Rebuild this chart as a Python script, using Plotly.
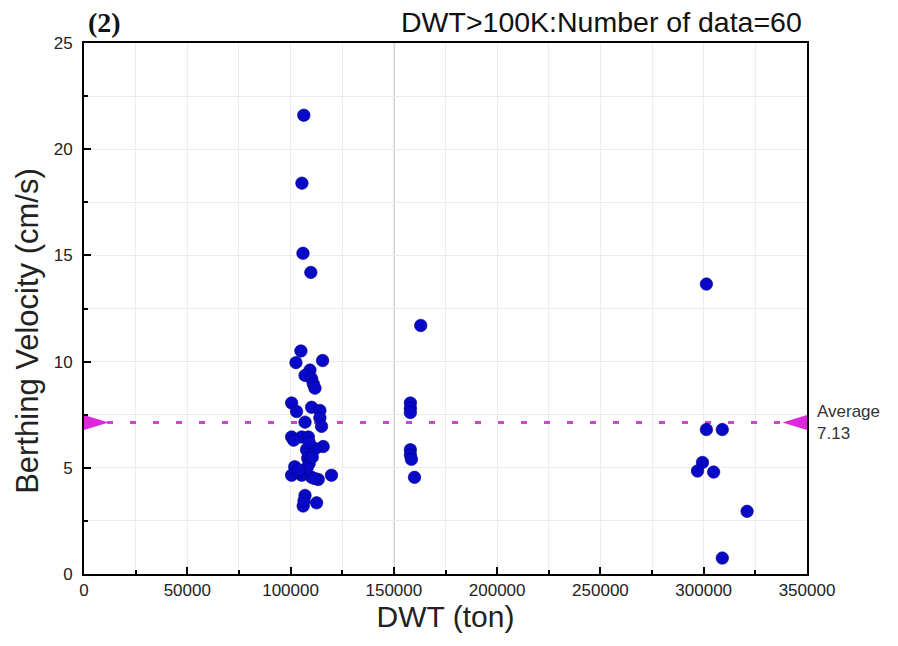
import plotly.graph_objects as go

# ---- data ----
dwt_ton = [
    106400, 105500, 106000, 109800, 105000, 102600, 115500, 109400, 107000, 110200,
    111000, 111800, 100500, 102900, 110200, 114200, 107000, 114200, 115000, 100500,
    105400, 108600, 115800, 107700, 108300, 109000, 102000, 100500, 105400, 110200,
    113400, 119800, 107000, 106100, 112600, 101500, 103500, 108000, 111500, 104000,
    112000, 109000, 106500, 110500,
    163000, 158000, 158000, 158000, 158000, 158000, 158500, 160000,
    301300, 301300, 309000, 299400, 297000, 304800, 321000, 309000,
]
velocity_cms = [
    21.6, 18.4, 15.1, 14.2, 10.5, 9.95, 10.05, 9.6, 9.35, 9.2,
    8.95, 8.75, 8.05, 7.65, 7.85, 7.7, 7.15, 7.35, 6.95, 6.45,
    6.45, 6.45, 6.0, 5.85, 5.45, 5.2, 5.05, 4.65, 4.65, 4.55,
    4.45, 4.65, 3.7, 3.2, 3.35, 6.3, 4.8, 5.0, 4.5, 4.9,
    5.9, 6.2, 3.45, 5.5,
    11.7, 8.05, 7.8, 7.6, 5.85, 5.6, 5.4, 4.55,
    13.65, 6.8, 6.8, 5.25, 4.85, 4.8, 2.95, 0.75,
]
average_velocity = 7.13
divider_dwt = 150000
x_range = [0, 350000]
y_range = [0, 25]
x_tick_values = [0, 50000, 100000, 150000, 200000, 250000, 300000, 350000]
y_tick_values = [0, 5, 10, 15, 20, 25]
panel_label = "(2)"
header_text = "DWT>100K:Number of data=60"
y_title = "Berthing Velocity (cm/s)"
x_title = "DWT (ton)"

SANS = "Liberation Sans, Arial, sans-serif"
MAGENTA = "rgb(222,40,222)"

fig = go.Figure()

# average dashed line
fig.add_trace(go.Scatter(
    x=x_range, y=[average_velocity, average_velocity], mode="lines",
    line=dict(color="rgb(205,70,205)", width=3, dash="6px,17px"),
    hoverinfo="skip", showlegend=False, cliponaxis=False,
))

# data points
fig.add_trace(go.Scatter(
    x=dwt_ton, y=velocity_cms, mode="markers",
    marker=dict(size=12.5, color="#0808c8", line=dict(width=0.6, color="#00007a")),
    showlegend=False,
))

# average pointer triangles (sized relative to axis span)
tri_w = (x_range[1] - x_range[0]) * 0.034
tri_h = (y_range[1] - y_range[0]) * 0.014
fig.add_trace(go.Scatter(
    x=[x_range[0], x_range[0], x_range[0] + tri_w, x_range[0]],
    y=[average_velocity - tri_h, average_velocity + tri_h, average_velocity, average_velocity - tri_h],
    mode="lines", fill="toself", fillcolor=MAGENTA, line=dict(width=0, color=MAGENTA),
    hoverinfo="skip", showlegend=False,
))
fig.add_trace(go.Scatter(
    x=[x_range[1], x_range[1], x_range[1] - tri_w, x_range[1]],
    y=[average_velocity - tri_h, average_velocity + tri_h, average_velocity, average_velocity - tri_h],
    mode="lines", fill="toself", fillcolor=MAGENTA, line=dict(width=0, color=MAGENTA),
    hoverinfo="skip", showlegend=False,
))

fig.add_shape(type="line", xref="x", yref="paper", x0=divider_dwt, x1=divider_dwt,
              y0=0, y1=1, line=dict(color="#b4b4b4", width=1.5), layer="below")

fig.add_annotation(xref="paper", yref="y", x=1, y=average_velocity, xanchor="left",
                   yanchor="middle", xshift=8, showarrow=False, align="left",
                   text=f"Average<br>{average_velocity}",
                   font=dict(family=SANS, size=17, color="#333333"))
fig.add_annotation(xref="paper", yref="paper", x=0, y=1, xanchor="left", yanchor="bottom",
                   yshift=3, xshift=2, showarrow=False, text=f"<b>{panel_label}</b>",
                   font=dict(family="Liberation Serif, Times New Roman, serif", size=28, color="#111"))
fig.add_annotation(xref="paper", yref="paper", x=1, y=1, xanchor="right", yanchor="bottom",
                   yshift=3, xshift=-3, showarrow=False, text=header_text,
                   font=dict(family=SANS, size=28.5, color="#111"))
# y-axis title (placed slightly below the plot centre, as in the reference)
fig.add_annotation(xref="paper", yref="paper", x=0, y=0.458, xanchor="center", yanchor="middle",
                   xshift=-56, textangle=-90, showarrow=False, text=y_title,
                   font=dict(family=SANS, size=31, color="#222"))

axis_common = dict(
    showline=True, linewidth=2, linecolor="black", mirror=True,
    ticks="inside", ticklen=7, tickwidth=2, tickcolor="black",
    showgrid=True, gridcolor="#ececec", gridwidth=1, zeroline=False,
    tickfont=dict(family=SANS, size=17, color="#222"),
)

fig.update_xaxes(
    range=x_range, tickvals=x_tick_values, ticktext=[str(v) for v in x_tick_values],
    minor=dict(dtick=25000, ticks="inside", ticklen=4, tickwidth=1.5, tickcolor="black",
               showgrid=True, gridcolor="#ececec"),
    title=dict(text=x_title, font=dict(family=SANS, size=30, color="#222"), standoff=6),
    **axis_common,
)
fig.update_yaxes(
    range=y_range, tickvals=y_tick_values,
    minor=dict(dtick=2.5, ticks="inside", ticklen=4, tickwidth=1.5, tickcolor="black",
               showgrid=True, gridcolor="#ececec"),
    ticklabelstandoff=6,
    **axis_common,
)

fig.update_layout(
    width=898, height=646,
    margin=dict(l=84, r=91, t=43, b=72),
    plot_bgcolor="white", paper_bgcolor="white",
    showlegend=False,
)

fig.write_html("out.html")
